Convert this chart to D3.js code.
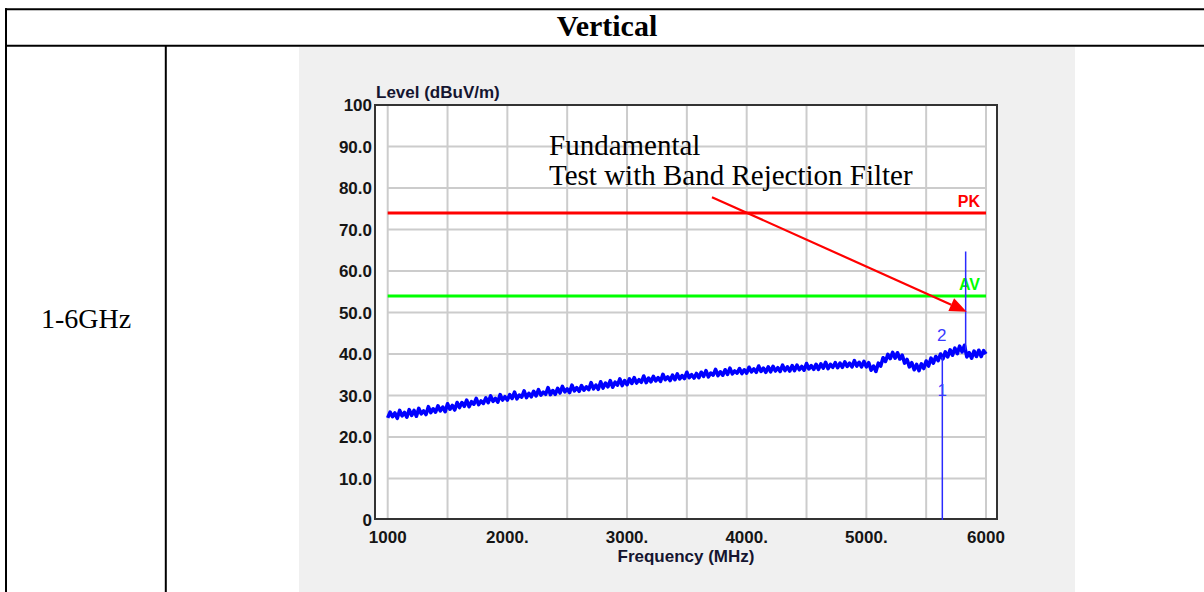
<!DOCTYPE html>
<html><head><meta charset="utf-8">
<script src="https://cdn.jsdelivr.net/npm/d3@7"></script>
<style>html,body{margin:0;padding:0;background:#fff;}svg{display:block;}</style>
</head><body>
<svg id="c" width="1204" height="592"></svg>
<script>
// ---------- data ----------
const tableTitle = "Vertical";
const rangeLabel = "1-6GHz";
const yAxisTitle = "Level (dBuV/m)";
const xAxisTitle = "Frequency (MHz)";
const xTicks = [1000, 2000, 3000, 4000, 5000, 6000];
const xTickLabels = ["1000", "2000.", "3000.", "4000.", "5000.", "6000"];
const yTicks = [0, 10, 20, 30, 40, 50, 60, 70, 80, 90, 100];
const yTickLabels = ["0", "10.0", "20.0", "30.0", "40.0", "50.0", "60.0", "70.0", "80.0", "90.0", "100"];
const xGrid = [1000, 1500, 2000, 2500, 3000, 3500, 4000, 4500, 5000, 5500, 6000];
const yGrid = [10, 20, 30, 40, 50, 60, 70, 80, 90];
const limitNames = ["PK", "AV"];
const limitLevels = [74, 54];
const sweepStart = 1000, sweepStep = 20; // MHz
const traceLevels = [
24.6,26.0,24.9,25.8,24.5,26.4,25.1,25.9,24.8,26.6,
25.2,26.4,25.0,26.9,25.6,26.3,25.4,27.3,25.9,26.8,
26.0,27.5,26.3,27.2,26.1,28.0,26.7,27.6,26.5,28.3,
27.1,28.3,27.4,28.9,27.3,28.5,27.9,29.3,27.8,28.7,
28.1,29.4,28.3,29.9,28.6,29.3,28.4,30.2,28.9,29.7,
28.9,30.2,29.3,30.8,29.2,30.1,29.6,31.1,29.5,30.5,
29.7,31.0,29.9,31.4,30.1,30.8,30.3,31.9,30.2,31.2,
30.3,31.7,30.6,32.2,30.9,31.6,30.7,32.5,31.1,31.9,
31.0,32.4,31.3,32.1,31.4,33.1,31.6,32.5,31.5,33.3,
31.8,33.0,32.1,33.6,32.0,33.2,32.5,34.0,32.4,33.6,
32.6,34.0,32.9,34.3,33.0,33.8,33.2,34.7,33.1,34.2,
33.3,34.6,33.5,34.3,33.4,35.1,33.8,34.5,33.6,34.9,
33.8,35.2,34.0,34.8,34.1,35.6,34.3,35.0,34.2,35.3,
34.3,35.6,34.6,36.0,34.5,35.4,34.9,36.3,34.8,35.7,
34.9,36.2,35.1,36.6,35.2,35.9,35.4,36.5,35.3,36.2,
35.4,36.8,35.7,36.4,35.6,37.1,35.8,36.6,35.6,36.9,
35.7,37.0,35.9,36.7,35.8,37.3,36.0,36.9,35.9,37.2,
36.0,37.3,36.2,37.0,36.1,37.7,36.4,37.2,36.3,37.5,
36.3,37.6,36.6,38.0,36.5,37.5,36.8,37.9,36.7,37.8,
36.8,38.1,37.0,37.8,36.9,38.4,37.1,38.0,36.9,38.2,
36.9,37.9,36.1,37.1,35.8,37.8,37.1,39.1,38.2,39.9,
38.9,40.4,39.0,40.3,38.8,39.7,37.8,38.7,36.9,37.9,
36.2,37.5,36.0,37.6,36.5,38.3,37.1,39.0,37.8,39.4,
38.4,40.0,38.8,40.5,39.3,41.0,39.7,41.4,40.1,41.9,
40.5,42.1,39.3,40.3,39.0,40.7,39.4,40.9,39.4,40.8,
40.0];
const markerLabels = ["1", "2"];
const markerFreqs = [5635, 5830];
const markerLows = [0, 41.0];
const markerHighs = [39.3, 64.7];
const markerLabelFreqs = [5635, 5630];
const markerLabelLevels = [31.3, 44.6];
const noteLines = ["Fundamental", "Test with Band Rejection Filter"];
const noteAt = [2348, 88];          // freq, level of first baseline
const arrowFrom = [3710, 77.8];
const arrowTo = [5839, 50.2];

// ---------- drawing ----------
const svg = d3.select("#c");
const W = 1204, H = 592;
const x = d3.scaleLinear().domain([1000, 6000]).range([387.7, 986]);
const y = d3.scaleLinear().domain([0, 100]).range([520, 105]);

// table
svg.append("rect").attr("x", 0).attr("y", 0).attr("width", W).attr("height", H).attr("fill", "#fff");
svg.append("rect").attr("x", 299).attr("y", 47).attr("width", 776).attr("height", H - 47).attr("fill", "#f0f0f0");
const tb = svg.append("g").attr("stroke", "#000").attr("stroke-width", 2);
tb.append("line").attr("x1", 5).attr("x2", W).attr("y1", 9.2).attr("y2", 9.2);
tb.append("line").attr("x1", 5).attr("x2", W).attr("y1", 45.8).attr("y2", 45.8);
tb.append("line").attr("x1", 6).attr("x2", 6).attr("y1", 8.2).attr("y2", H);
tb.append("line").attr("x1", 165.8).attr("x2", 165.8).attr("y1", 45.8).attr("y2", H);
svg.append("text").attr("x", 607).attr("y", 36).attr("text-anchor", "middle")
  .attr("font-family", "Liberation Serif, Times New Roman, serif").attr("font-weight", "bold")
  .attr("font-size", 30).text(tableTitle);
svg.append("text").attr("x", 86).attr("y", 328).attr("text-anchor", "middle")
  .attr("font-family", "Liberation Serif, Times New Roman, serif")
  .attr("font-size", 28).text(rangeLabel);

// plot background and frame
svg.append("rect").attr("x", 375).attr("y", 105).attr("width", 622).attr("height", 414).attr("fill", "#fff");

// grid
const grid = svg.append("g").attr("stroke", "#cccccc").attr("stroke-width", 2);
grid.selectAll("line.v").data(xGrid).join("line").attr("class", "v")
  .attr("x1", d => x(d)).attr("x2", d => x(d)).attr("y1", y(100)).attr("y2", y(0));
grid.selectAll("line.h").data(yGrid).join("line").attr("class", "h")
  .attr("x1", x(1000)).attr("x2", x(6000)).attr("y1", d => y(d)).attr("y2", d => y(d));

svg.append("rect").attr("x", 375).attr("y", 105).attr("width", 622).attr("height", 414)
  .attr("fill", "none").attr("stroke", "#333").attr("stroke-width", 2);

// limit lines
const limColors = ["#ff0000", "#00ff00"];
limitLevels.forEach((lv, i) => {
  svg.append("line").attr("x1", x(1000)).attr("x2", x(6000)).attr("y1", y(lv)).attr("y2", y(lv))
    .attr("stroke", limColors[i]).attr("stroke-width", 3);
  svg.append("text").attr("x", x(6000) - 6).attr("y", y(lv) - 6).attr("text-anchor", "end")
    .attr("font-family", "Liberation Sans, Arial, sans-serif").attr("font-weight", "bold")
    .attr("font-size", 16).attr("fill", limColors[i]).text(limitNames[i]);
});

// trace
const line = d3.line().x((d, i) => x(sweepStart + i * sweepStep)).y(d => y(d));
svg.append("path").datum(traceLevels).attr("d", line).attr("fill", "none")
  .attr("stroke", "#0000ff").attr("stroke-width", 3.6).attr("stroke-linejoin", "round");

// markers
markerFreqs.forEach((f, i) => {
  svg.append("line").attr("x1", x(f)).attr("x2", x(f)).attr("y1", y(markerLows[i])).attr("y2", y(markerHighs[i]))
    .attr("stroke", "#2a2aff").attr("stroke-width", 1.5);
  svg.append("text").attr("x", x(markerLabelFreqs[i])).attr("y", y(markerLabelLevels[i]))
    .attr("dy", "0.35em").attr("text-anchor", "middle")
    .attr("font-family", "Liberation Sans, Arial, sans-serif").attr("font-size", 17)
    .attr("fill", "#3a3aff").text(markerLabels[i]);
});

// axes labels
const axFont = "Liberation Sans, Arial, sans-serif";
svg.selectAll("text.yt").data(yTicks).join("text").attr("class", "yt")
  .attr("x", 372).attr("y", d => y(d)).attr("dy", "0.36em").attr("text-anchor", "end")
  .attr("font-family", axFont).attr("font-weight", "bold").attr("font-size", 17).attr("fill", "#151515")
  .text((d, i) => yTickLabels[i]);
svg.selectAll("text.xt").data(xTicks).join("text").attr("class", "xt")
  .attr("x", d => x(d)).attr("y", 543).attr("text-anchor", "middle")
  .attr("font-family", axFont).attr("font-weight", "bold").attr("font-size", 17).attr("fill", "#151515")
  .text((d, i) => xTickLabels[i]);
svg.append("text").attr("x", 376).attr("y", 98).attr("font-family", axFont).attr("font-weight", "bold")
  .attr("font-size", 17).attr("fill", "#151530").text(yAxisTitle);
svg.append("text").attr("x", 686).attr("y", 562).attr("text-anchor", "middle").attr("font-family", axFont)
  .attr("font-weight", "bold").attr("font-size", 17).attr("fill", "#151530").text(xAxisTitle);

// annotation
noteLines.forEach((t, i) => {
  svg.append("text").attr("x", x(noteAt[0])).attr("y", y(noteAt[1]) + i * 30)
    .attr("font-family", "Liberation Serif, Times New Roman, serif").attr("font-size", 29)
    .attr("fill", "#000").text(t);
});
const ax0 = x(arrowFrom[0]), ay0 = y(arrowFrom[1]), ax1 = x(arrowTo[0]), ay1 = y(arrowTo[1]);
const ang = Math.atan2(ay1 - ay0, ax1 - ax0);
const hl = 17, hw = 7;
const bx = ax1 - hl * Math.cos(ang), by = ay1 - hl * Math.sin(ang);
svg.append("line").attr("x1", ax0).attr("y1", ay0).attr("x2", bx).attr("y2", by)
  .attr("stroke", "#ff0000").attr("stroke-width", 2.2);
svg.append("path").attr("fill", "#ff0000").attr("d",
  `M${ax1},${ay1}L${bx + hw * Math.sin(ang)},${by - hw * Math.cos(ang)}L${bx - hw * Math.sin(ang)},${by + hw * Math.cos(ang)}Z`);
</script>
</body></html>
